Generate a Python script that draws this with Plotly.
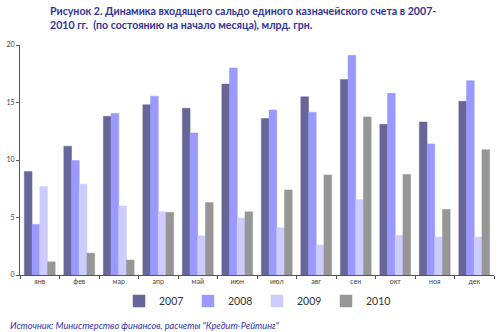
import plotly.graph_objects as go

months = ["янв", "фев", "мар", "апр", "май", "июн", "июл", "авг", "сен", "окт", "ноя", "дек"]
v2007 = [9.0, 11.2, 13.8, 14.8, 14.5, 16.6, 13.6, 15.5, 17.0, 13.1, 13.3, 15.1]
v2008 = [4.4, 9.95, 14.05, 15.55, 12.35, 18.0, 14.35, 14.15, 19.1, 15.8, 11.4, 16.9]
v2009 = [7.7, 7.9, 6.0, 5.5, 3.4, 4.95, 4.1, 2.6, 6.55, 3.45, 3.3, 3.3]
v2010 = [1.15, 1.9, 1.3, 5.45, 6.3, 5.5, 7.4, 8.7, 13.75, 8.75, 5.7, 10.9]
series_names = ["2007", "2008", "2009", "2010"]
colors = ["#666699", "#9999FF", "#CCCCFF", "#969696"]
yticks = [0, 5, 10, 15, 20]

fig = go.Figure()
for name, vals, col in zip(series_names, [v2007, v2008, v2009, v2010], colors):
    fig.add_trace(go.Bar(x=months, y=vals, name=name,
                         marker=dict(color=col, line=dict(color=col, width=0.5))))

W, H = 500, 332
L, R, T, B = 16, 6, 45, 57
pw = W - L - R
ph = H - T - B

def px(x):
    return (x - L) / pw

def py(y):
    return (H - B - y) / ph

fig.update_layout(
    width=W, height=H,
    margin=dict(l=L, r=R, t=T, b=B),
    paper_bgcolor="white", plot_bgcolor="white",
    barmode="group", bargap=0.22, bargroupgap=0.0,
    font=dict(family="Lato, Open Sans, sans-serif", color="#333333"),
    showlegend=True,
    legend=dict(orientation="h", x=0.5, xanchor="center", y=py(301), yanchor="middle",
                font=dict(size=10.5, color="#333333"), itemwidth=30,
                entrywidth=24, entrywidthmode="pixels",
                traceorder="normal", bgcolor="rgba(0,0,0,0)"),
    xaxis=dict(showline=True, linecolor="#555555", linewidth=1,
               ticks="outside", tickson="boundaries", ticklen=3, tickcolor="#555555",
               tickfont=dict(size=7, color="#444444"),
               showgrid=False, zeroline=False),
    yaxis=dict(range=[0, 20], tickvals=yticks, showline=True, linecolor="#555555", linewidth=1,
               ticks="outside", ticklen=3, tickcolor="#555555",
               tickfont=dict(size=7, color="#444444"), showgrid=False, zeroline=False),
    annotations=[
        dict(text="<b>Рисунок 2. Динамика входящего сальдо единого казначейского счета в 2007-<br>2010 гг.  (по состоянию на начало месяца), млрд. грн.</b>",
             xref="paper", yref="paper", x=px(44), y=py(3), xanchor="left", yanchor="top",
             showarrow=False, align="left",
             font=dict(size=10.6, color="#333399", family="Lato, Open Sans, sans-serif")),
        dict(text="<i>Источник: Министерство финансов, расчеты \"Кредит-Рейтинг\"</i>",
             xref="paper", yref="paper", x=px(4), y=py(325), xanchor="left", yanchor="middle",
             showarrow=False, align="left",
             font=dict(size=9.2, color="#3333AA", family="Lato, Open Sans, sans-serif")),
    ],
)

fig.write_html("out.html")
